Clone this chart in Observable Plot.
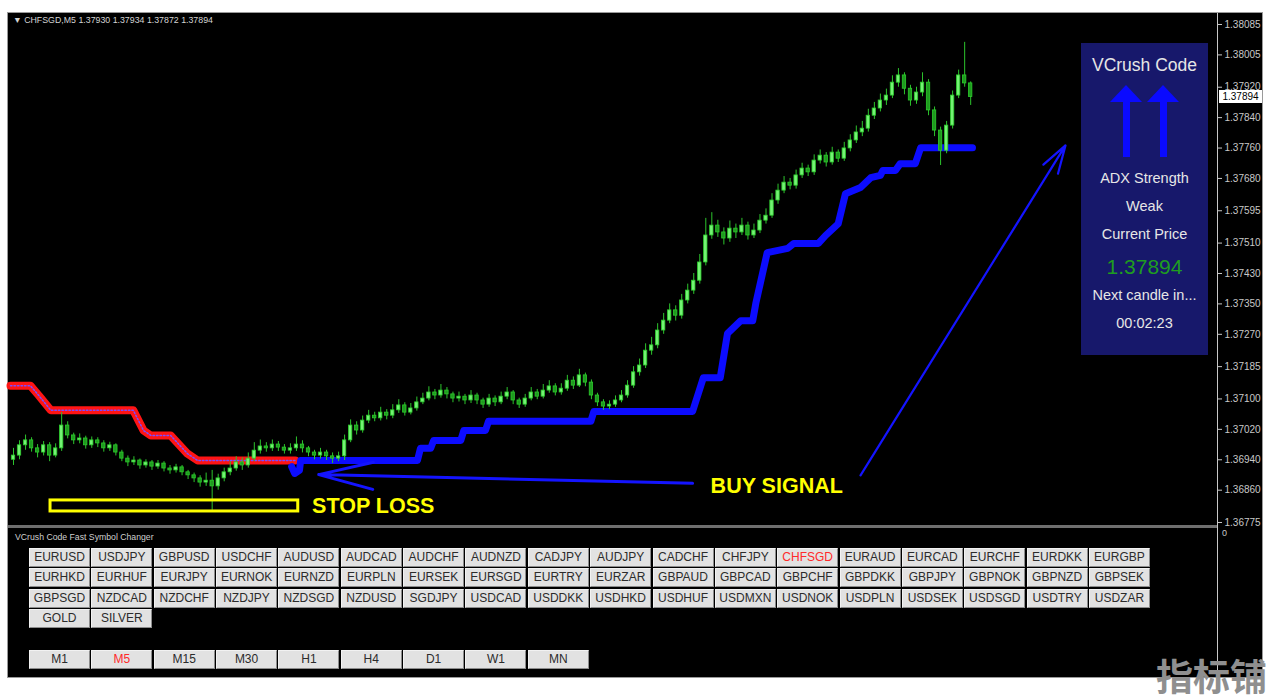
<!DOCTYPE html>
<html><head><meta charset="utf-8">
<script src="https://cdn.jsdelivr.net/npm/d3@7"></script>
<script src="https://cdn.jsdelivr.net/npm/@observablehq/plot@0.6"></script>
<style>
html,body{margin:0;padding:0;background:#fff;}
#root{position:relative;width:1284px;height:699px;overflow:hidden;font-family:Arial,"Liberation Sans",sans-serif;}
.abs{position:absolute;}
.btn{position:absolute;height:19px;width:61px;box-sizing:border-box;background:#e2e2e2;border:1px solid #8c8c8c;border-top-color:#f2f2f2;border-left-color:#f2f2f2;font-size:12px;line-height:17px;text-align:center;color:#2b2b2b;white-space:nowrap;}
.ptxt{position:absolute;left:1081px;width:127px;text-align:center;color:#e6e6e6;white-space:nowrap;}
</style></head><body><div id="root"></div>
<script>
// ---------------- data ----------------
const symbol = "CHFSGD,M5";
const firstOpen = 1.36940;
const closes = [
1.36951,1.36978,1.36991,1.36970,1.36959,1.36978,1.36951,1.36970,1.37030,1.37004,
1.36991,1.36996,1.36978,1.36991,1.36983,1.36970,1.36978,1.36959,1.36943,1.36933,
1.36938,1.36925,1.36933,1.36922,1.36930,1.36917,1.36912,1.36920,1.36907,1.36899,
1.36891,1.36880,1.36885,1.36870,1.36891,1.36907,1.36917,1.36933,1.36925,1.36943,
1.36964,1.36975,1.36970,1.36980,1.36972,1.36964,1.36970,1.36980,1.36970,1.36959,
1.36951,1.36959,1.36949,1.36943,1.36949,1.36991,1.37030,1.37017,1.37043,1.37056,
1.37049,1.37064,1.37056,1.37070,1.37083,1.37064,1.37075,1.37091,1.37101,1.37117,
1.37109,1.37122,1.37112,1.37101,1.37106,1.37096,1.37109,1.37096,1.37085,1.37101,
1.37091,1.37106,1.37117,1.37096,1.37085,1.37101,1.37117,1.37106,1.37122,1.37133,
1.37117,1.37127,1.37148,1.37135,1.37162,1.37143,1.37109,1.37091,1.37080,1.37085,
1.37096,1.37109,1.37135,1.37170,1.37188,1.37227,1.37241,1.37280,1.37306,1.37333,
1.37319,1.37359,1.37385,1.37411,1.37459,1.37530,1.37556,1.37538,1.37522,1.37548,
1.37538,1.37556,1.37530,1.37543,1.37569,1.37582,1.37622,1.37648,1.37669,1.37661,
1.37688,1.37706,1.37696,1.37727,1.37740,1.37722,1.37748,1.37732,1.37759,1.37780,
1.37801,1.37811,1.37845,1.37864,1.37885,1.37898,1.37932,1.37951,1.37916,1.37885,
1.37906,1.37932,1.37859,1.37806,1.37753,1.37819,1.37898,1.37951,1.37930,1.37894];
const highs = [
1.36970,1.36990,1.37005,1.36998,1.36980,1.36988,1.36985,1.36982,1.37064,1.37040,
1.37010,1.37008,1.37002,1.37000,1.36998,1.36990,1.36986,1.36982,1.36965,1.36950,
1.36948,1.36942,1.36940,1.36938,1.36938,1.36935,1.36925,1.36928,1.36925,1.36912,
1.36905,1.36898,1.36905,1.36912,1.36902,1.36918,1.36935,1.36948,1.36945,1.36958,
1.36985,1.36992,1.36985,1.36992,1.36988,1.36980,1.36982,1.37000,1.36990,1.36975,
1.36965,1.36970,1.36965,1.36958,1.36960,1.37005,1.37045,1.37040,1.37055,1.37070,
1.37065,1.37078,1.37072,1.37085,1.37098,1.37090,1.37088,1.37105,1.37115,1.37132,
1.37125,1.37138,1.37130,1.37118,1.37118,1.37112,1.37122,1.37115,1.37102,1.37112,
1.37108,1.37118,1.37130,1.37122,1.37102,1.37112,1.37130,1.37125,1.37138,1.37148,
1.37140,1.37140,1.37162,1.37158,1.37178,1.37168,1.37150,1.37115,1.37098,1.37095,
1.37108,1.37122,1.37148,1.37185,1.37205,1.37245,1.37262,1.37298,1.37325,1.37350,
1.37345,1.37375,1.37402,1.37430,1.37480,1.37575,1.37590,1.37570,1.37550,1.37568,
1.37560,1.37575,1.37565,1.37560,1.37585,1.37600,1.37640,1.37665,1.37685,1.37680,
1.37702,1.37720,1.37715,1.37742,1.37755,1.37748,1.37762,1.37755,1.37775,1.37795,
1.37818,1.37830,1.37862,1.37880,1.37902,1.37915,1.37950,1.37969,1.37958,1.37925,
1.37920,1.37958,1.37940,1.37868,1.37815,1.37830,1.37910,1.37965,1.38038,1.37934];
const lows = [
1.36925,1.36940,1.36965,1.36960,1.36945,1.36950,1.36935,1.36945,1.36962,1.36995,
1.36980,1.36982,1.36968,1.36970,1.36972,1.36960,1.36962,1.36950,1.36935,1.36922,
1.36925,1.36915,1.36918,1.36912,1.36915,1.36908,1.36902,1.36905,1.36898,1.36888,
1.36880,1.36868,1.36870,1.36807,1.36860,1.36882,1.36898,1.36910,1.36912,1.36918,
1.36935,1.36955,1.36960,1.36962,1.36962,1.36955,1.36955,1.36962,1.36958,1.36948,
1.36940,1.36942,1.36938,1.36930,1.36935,1.36938,1.36985,1.37005,1.37010,1.37035,
1.37040,1.37042,1.37045,1.37048,1.37062,1.37055,1.37058,1.37068,1.37085,1.37095,
1.37098,1.37102,1.37100,1.37090,1.37092,1.37085,1.37088,1.37085,1.37075,1.37078,
1.37080,1.37085,1.37098,1.37085,1.37075,1.37078,1.37095,1.37098,1.37100,1.37115,
1.37108,1.37110,1.37120,1.37125,1.37130,1.37132,1.37098,1.37080,1.37070,1.37072,
1.37078,1.37090,1.37102,1.37128,1.37160,1.37180,1.37215,1.37232,1.37270,1.37298,
1.37305,1.37310,1.37350,1.37375,1.37402,1.37450,1.37520,1.37525,1.37505,1.37512,
1.37522,1.37530,1.37518,1.37522,1.37535,1.37560,1.37575,1.37612,1.37640,1.37650,
1.37652,1.37680,1.37685,1.37688,1.37718,1.37710,1.37715,1.37722,1.37725,1.37750,
1.37772,1.37790,1.37802,1.37835,1.37855,1.37872,1.37890,1.37920,1.37900,1.37870,
1.37875,1.37895,1.37845,1.37790,1.37714,1.37745,1.37810,1.37890,1.37920,1.37872];

// trailing stop (red = sell stop, blue = buy stop): bar index / price
const redX = [-0.5, 2.8, 4.2, 6.2, 19.9, 21.6, 22.8, 26.1, 28.9, 30.6, 46.8];
const redY = [1.37135, 1.37135, 1.37109, 1.37070, 1.37070, 1.37017, 1.37004, 1.37004, 1.36956, 1.36938, 1.36938];
const blueX = [46.2,46.7,47.5,47.7,67.1,67.6,69.3,69.8,74.3,74.8,78.4,78.9,95.9,96.4,112.8,114.6,117.4,118.6,120.8,122.8,123.3,125.2,128.6,129.6,133.7,134.9,137.0,138.2,140.7,142.4,144.0,144.4,146.5,147.3,149.8,150.7,159.3];
const blueY = [1.36922,1.36904,1.36912,1.36938,1.36938,1.36970,1.36970,1.36991,1.36991,1.37017,1.37017,1.37041,1.37041,1.37067,1.37067,1.37156,1.37156,1.37272,1.37306,1.37306,1.37351,1.37485,1.37496,1.37509,1.37509,1.37530,1.37561,1.37640,1.37656,1.37682,1.37688,1.37701,1.37701,1.37719,1.37719,1.37761,1.37761];

const yTicks = [1.38085,1.38005,1.37920,1.37840,1.37760,1.37680,1.37595,1.37510,1.37430,1.37350,1.37270,1.37185,1.37100,1.37020,1.36940,1.36860,1.36775];

// annotations (bar index / price)
const buyArrow = [{x1:112.8, y1:1.36878, x2:50.7, y2:1.36901}];
const trendArrow = [{x1:140.7, y1:1.36899, x2:174.75, y2:1.37767}];
const stopBox = [{x1:6.15, x2:47.3, y1:1.36804, y2:1.36833}];
const labels = [{x:49.6, y:1.36817, text:"STOP LOSS"}, {x:115.8, y:1.36872, text:"BUY SIGNAL"}];

const panelTitle = "VCrush Code";
const panelLines = ["ADX Strength", "Weak", "Current Price"];
const nextCandle = "Next candle in...";
const timer = "00:02:23";

const symbolRows = [
["EURUSD","USDJPY","GBPUSD","USDCHF","AUDUSD","AUDCAD","AUDCHF","AUDNZD","CADJPY","AUDJPY","CADCHF","CHFJPY","CHFSGD","EURAUD","EURCAD","EURCHF","EURDKK","EURGBP"],
["EURHKD","EURHUF","EURJPY","EURNOK","EURNZD","EURPLN","EURSEK","EURSGD","EURTRY","EURZAR","GBPAUD","GBPCAD","GBPCHF","GBPDKK","GBPJPY","GBPNOK","GBPNZD","GBPSEK"],
["GBPSGD","NZDCAD","NZDCHF","NZDJPY","NZDSGD","NZDUSD","SGDJPY","USDCAD","USDDKK","USDHKD","USDHUF","USDMXN","USDNOK","USDPLN","USDSEK","USDSGD","USDTRY","USDZAR"],
["GOLD","SILVER"]];
const timeframes = ["M1","M5","M15","M30","H1","H4","D1","W1","MN"];
const activeSymbol = "CHFSGD", activeTF = "M5";

// ---------------- build ----------------
const candles = closes.map((c, i) => ({i, open: i === 0 ? firstOpen : closes[i-1], high: highs[i], low: lows[i], close: c}));
const red = redX.map((x, k) => ({x, y: redY[k]}));
const blue = blueX.map((x, k) => ({x, y: blueY[k]}));
const last = candles[candles.length - 1];
const f5 = d3.format(".5f");

const root = document.getElementById("root");
function el(tag, css, text, cls) {
  const e = document.createElement(tag);
  if (cls) e.className = cls;
  e.style.cssText = "position:absolute;" + css;
  if (text != null) e.textContent = text;
  root.appendChild(e);
  return e;
}

// terminal window background
el("div", "left:7px;top:12px;width:1254px;height:664px;background:#000;border:1px solid #9a9a9a;");
el("div", "left:1217px;top:13px;width:1px;height:664px;background:#c8c8c8;");
el("div", "left:8px;top:525px;width:1209px;height:3px;background:#6e6e6e;");

const chart = Plot.plot({
  width: 1284, height: 530,
  marginLeft: 10, marginRight: 67, marginTop: 13, marginBottom: 5,
  style: {background: "transparent", fontFamily: 'Arial, "Liberation Sans", sans-serif', overflow: "visible"},
  x: {domain: [-0.5, 200], axis: null},
  y: {domain: [1.367671, 1.381139], axis: null},
  marks: [
    Plot.axisY(yTicks, {anchor: "right", tickSize: 4, tickPadding: 3, tickFormat: f5, color: "#c8c8c8", fontSize: 10, label: null}),
    Plot.line(red, {x: "x", y: "y", stroke: "#ff1414", strokeWidth: 8, strokeLinejoin: "round", strokeLinecap: "round"}),
    Plot.line(red, {x: "x", y: "y", stroke: "#7a4cff", strokeWidth: 1.5, strokeDasharray: "1.5,2"}),
    Plot.line(blue, {x: "x", y: "y", stroke: "#0c0cff", strokeWidth: 7, strokeLinejoin: "round", strokeLinecap: "round"}),
    Plot.ruleX(candles, {x: "i", y1: "low", y2: "high", stroke: "#2cc42c", strokeWidth: 1}),
    Plot.rect(candles, {x1: d => d.i - 0.28, x2: d => d.i + 0.28, y1: "open", y2: "close",
      fill: d => d.close >= d.open ? "#74f274" : "#1f9a1f", stroke: "#2ccc2c", strokeWidth: 0.8}),
    Plot.arrow(buyArrow, {x1: "x1", y1: "y1", x2: "x2", y2: "y2", stroke: "#1414ff", strokeWidth: 3, headLength: 28, headAngle: 28}),
    Plot.arrow(trendArrow, {x1: "x1", y1: "y1", x2: "x2", y2: "y2", stroke: "#1414ff", strokeWidth: 2.2, headLength: 20, headAngle: 34}),
    Plot.rect(stopBox, {x1: "x1", x2: "x2", y1: "y1", y2: "y2", fill: "none", stroke: "#ffff00", strokeWidth: 3}),
    Plot.text(labels, {x: "x", y: "y", text: "text", textAnchor: "start", fill: "#ffff00", fontSize: 21.5, fontWeight: "bold"})
  ]
});
chart.style.position = "absolute";
chart.style.left = "0px";
chart.style.top = "0px";
root.appendChild(chart);

// header
el("div", "left:13px;top:14px;font-size:8.8px;line-height:12px;color:#d4d4d4;white-space:nowrap;",
  "\u25BC  " + symbol + "  " + [last.open, last.high, last.low, last.close].map(f5).join(" "));

// current price label on the axis
const py = chart.scale("y").apply(last.close);
el("div", `left:1219px;top:${py - 6.5}px;width:43px;height:13px;background:#fff;color:#000;font-size:10px;line-height:13px;text-align:center;`, f5(last.close));

// info panel
el("div", "left:1081px;top:43px;width:127px;height:312px;background:#17186b;");
el("div", "top:53px;font-size:17.5px;line-height:24px;", panelTitle, "ptxt");
[1126.5, 1163.5].forEach(cx => {
  el("div", `left:${cx - 16.5}px;top:85px;width:0;height:0;border-left:16.5px solid transparent;border-right:16.5px solid transparent;border-bottom:17px solid #0a0aff;`);
  el("div", `left:${cx - 3.5}px;top:101px;width:7px;height:56px;background:#0a0aff;`);
});
[178, 206, 234].forEach((y, k) => el("div", `top:${y - 10}px;font-size:14.5px;line-height:20px;`, panelLines[k], "ptxt"));
el("div", "top:254px;font-size:21px;line-height:26px;color:#1f9d1f;", f5(last.close), "ptxt");
el("div", "top:285px;font-size:14.5px;line-height:20px;", nextCandle, "ptxt");
el("div", "top:313px;font-size:14.5px;line-height:20px;", timer, "ptxt");

// sub window
el("div", "left:1222px;top:528px;font-size:9px;color:#c8c8c8;", "0");
el("div", "left:15px;top:531px;font-size:8.7px;line-height:12px;color:#cfcfcf;white-space:nowrap;", "VCrush Code Fast Symbol Changer");
const rowTops = [548, 568, 588.5, 609];
symbolRows.forEach((row, r) => row.forEach((s, c) => {
  const b = el("div", `left:${29 + c * 62.35}px;top:${rowTops[r]}px;`, s, "btn");
  if (s === activeSymbol) b.style.color = "#ff2a2a";
}));
timeframes.forEach((t, c) => {
  const b = el("div", `left:${29 + c * 62.35}px;top:650px;`, t, "btn");
  if (t === activeTF) b.style.color = "#ff2a2a";
});

// watermark
el("div", 'left:1156px;top:655px;font-size:37px;line-height:40px;font-weight:bold;color:#8f8f8f;font-family:"Noto Sans CJK SC",sans-serif;white-space:nowrap;', "指标铺");
</script></body></html>
